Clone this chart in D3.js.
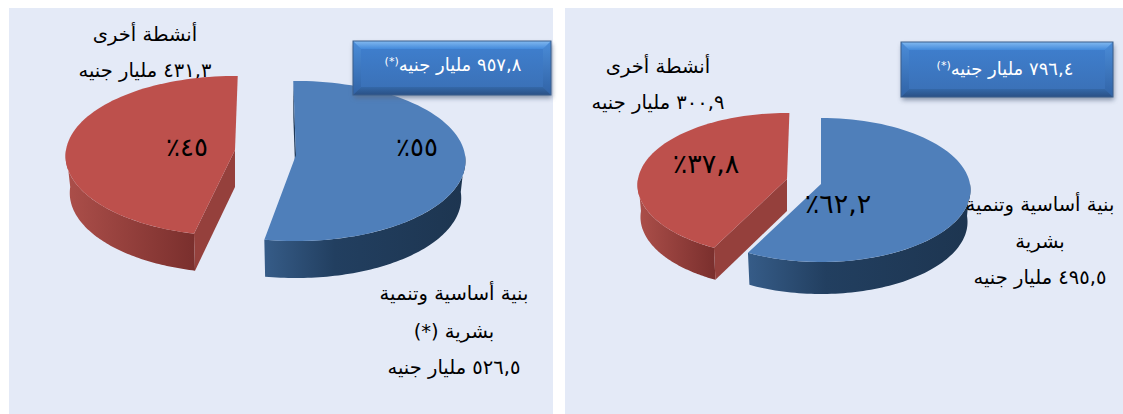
<!DOCTYPE html>
<html lang="ar">
<head>
<meta charset="utf-8">
<script src="https://cdn.jsdelivr.net/npm/d3@7"></script>
<style>
    html, body { margin: 0; padding: 0; background: #fff; }
    svg { display: block; }
    text { font-family: "DejaVu Sans", sans-serif; fill: #000; direction: rtl; text-anchor: middle; }
</style>
</head>
<body>
<svg id="chart" width="1123" height="414"></svg>
<script>
// values in billion EGP, left panel first
const infraValues = [526.5, 495.5];
const otherValues = [431.3, 300.9];
const infraShares = ["٥٥٪", "٦٢,٢٪"];
const otherShares = ["٤٥٪", "٣٧,٨٪"];
const totals = ["٩٥٧,٨ مليار جنيه", "٧٩٦,٤ مليار جنيه"];
const otherLabels = [
    ["أنشطة أخرى", "٤٣١,٣ مليار جنيه"],
    ["أنشطة أخرى", "٣٠٠,٩ مليار جنيه"]
];
const infraLabels = [
    ["بنية أساسية وتنمية", "بشرية (*)", "٥٢٦,٥ مليار جنيه"],
    ["بنية أساسية وتنمية", "بشرية", "٤٩٥,٥ مليار جنيه"]
];

const panels = [
    {
        x: 9, width: 544,
        radius: 169, tilt: 0.471, persp: 0.075, depth: 37, taper: 0.975,
        // the 3d view squeezes the slices, so the boundary does not sit at its true angle
        viewAngles: [-1, 191.5, 361], viewGap: 1.5,
        infraCentre: [296, 155], otherCentre: [235, 150],
        box: { x: 353, y: 41, w: 198, h: 54, textX: 453, textY: 71 },
        otherLabel: { x: 145, y: [41, 77], size: 19.5 },
        infraLabel: { x: 454, y: [300, 338, 374], size: 19.5 },
        otherShare: { x: 187, y: 156, size: 26 },
        infraShare: { x: 417, y: 156, size: 26 }
    },
    {
        x: 565, width: 558,
        radius: 149, tilt: 0.48, persp: 0.083, depth: 32, taper: 0.98,
        viewAngles: [0, 207, 361], viewGap: 0,
        infraCentre: [821, 184], otherCentre: [787, 179],
        box: { x: 901, y: 42, w: 212, h: 55, textX: 1005, textY: 75 },
        otherLabel: { x: 658, y: [73, 109], size: 19.5 },
        infraLabel: { x: 1040, y: [211, 248, 284], size: 19.5 },
        otherShare: { x: 706, y: 173, size: 27 },
        infraShare: { x: 838, y: 213, size: 27 }
    }
];

const sliceColours = {
    infra: { top: "#4f7fba", face: "#1f3a5a", wall: "url(#wall-blue)" },
    other: { top: "#bd504c", face: "#95403c", wall: "url(#wall-red)" }
};

const svg = d3.select("#chart");
const defs = svg.append("defs");

function addGradient(id, x2, y2, stops) {
    let gradient = defs.append("linearGradient")
        .attr("id", id)
        .attr("x1", 0).attr("y1", 0)
        .attr("x2", x2).attr("y2", y2);
    stops.forEach(function(s) {
        gradient.append("stop").attr("offset", s[0]).attr("stop-color", s[1]);
    });
}

addGradient("wall-blue", 1, 0, [[0, "#365c88"], [0.35, "#223f60"], [1, "#1d3550"]]);
addGradient("wall-red", 1, 0, [[0, "#ac4f4a"], [1, "#7a2f2d"]]);
addGradient("box-main", 0, 1, [[0, "#3f80d0"], [1, "#3a6fb4"]]);
addGradient("box-top", 0, 1, [[0, "#82b9f0"], [1, "#448adb"]]);
addGradient("box-bottom", 0, 1, [[0, "#3468a8"], [1, "#2a5085"]]);
addGradient("box-side", 0, 1, [[0, "#4a8cd8"], [1, "#3163a6"]]);

let blur = defs.append("filter").attr("id", "box-shadow")
    .attr("x", "-5%").attr("y", "-10%").attr("width", "110%").attr("height", "130%");
blur.append("feGaussianBlur").attr("stdDeviation", 2.5);

/**
 * Projects a pie angle onto the tilted disc of a panel
 */
function project(panel, centre, angle) {
    let s = 1 / (1 + panel.persp * Math.cos(angle));
    return [
        centre[0] + panel.radius * Math.sin(angle) * s,
        centre[1] - panel.radius * panel.tilt * Math.cos(angle) * s
    ];
}

function rimPoints(panel, centre, from, to) {
    let count = 80;
    return d3.range(count + 1).map(function(i) {
        return project(panel, centre, from + (to - from) * i / count);
    });
}

function drawSlice(panel, centre, d, colours) {
    let line = d3.line();
    let g = svg.append("g");
    let rim = rimPoints(panel, centre, d.startAngle, d.endAngle);
    // lower edge of the disc sits a little further from the viewer
    let down = function(p) {
        return [centre[0] + (p[0] - centre[0]) * panel.taper, p[1] + panel.depth];
    };

    // side wall, only the half turned to the viewer
    let wallFrom = Math.max(d.startAngle, Math.PI / 2);
    let wallTo = Math.min(d.endAngle, Math.PI * 1.5);
    let wall = rimPoints(panel, centre, wallFrom, wallTo);
    g.append("path")
        .attr("d", line(wall.concat(wall.map(down).reverse())) + "Z")
        .attr("fill", colours.wall);

    // cut face
    let edge = project(panel, centre, d.startAngle);
    g.append("path")
        .attr("d", line([centre, edge, down(edge), down(centre)]) + "Z")
        .attr("fill", colours.face);

    // top face
    g.append("path")
        .attr("d", line([centre].concat(rim)) + "Z")
        .attr("fill", colours.top);
}

function drawBox(box, label) {
    let x0 = box.x, y0 = box.y, x1 = box.x + box.w, y1 = box.y + box.h;
    let bevel = 8;
    let g = svg.append("g");
    g.append("rect")
        .attr("x", x0 + 1).attr("y", y0 + 3)
        .attr("width", box.w).attr("height", box.h)
        .attr("fill", "#5a6b85").attr("opacity", 0.7)
        .attr("filter", "url(#box-shadow)");
    g.append("rect")
        .attr("x", x0).attr("y", y0)
        .attr("width", box.w).attr("height", box.h)
        .attr("fill", "url(#box-main)");
    let bevels = [
        [[[x0, y0], [x0 + bevel, y0 + bevel], [x0 + bevel, y1 - bevel], [x0, y1]], "url(#box-side)"],
        [[[x1, y0], [x1 - bevel, y0 + bevel], [x1 - bevel, y1 - bevel], [x1, y1]], "url(#box-side)"],
        [[[x0, y0], [x1, y0], [x1 - bevel, y0 + bevel], [x0 + bevel, y0 + bevel]], "url(#box-top)"],
        [[[x0, y1], [x1, y1], [x1 - bevel, y1 - bevel], [x0 + bevel, y1 - bevel]], "url(#box-bottom)"]
    ];
    bevels.forEach(function(b) {
        g.append("path").attr("d", d3.line()(b[0]) + "Z").attr("fill", b[1]);
    });
    g.append("rect")
        .attr("x", x0).attr("y", y0)
        .attr("width", box.w).attr("height", box.h)
        .attr("fill", "none").attr("stroke", "#3b5f8c").attr("stroke-width", 1);

    let text = g.append("text")
        .attr("x", box.textX).attr("y", box.textY)
        .style("fill", "#fff")
        .style("font-size", "18px")
        .text(label);
    text.append("tspan")
        .attr("dy", -6)
        .style("font-size", "11px")
        .text("(*)");
}

function drawLines(spec, lines) {
    lines.forEach(function(l, i) {
        svg.append("text")
            .attr("x", spec.x).attr("y", spec.y[i])
            .style("font-size", spec.size + "px")
            .text(l);
    });
}

panels.forEach(function(panel, i) {
    svg.append("rect")
        .attr("x", panel.x).attr("y", 8)
        .attr("width", panel.width).attr("height", 406)
        .attr("fill", "#e4eaf7");

    let pie = d3.pie().sort(null);
    let slices = pie([infraValues[i], otherValues[i]]);

    let view = d3.scaleLinear()
        .domain([0, slices[0].endAngle, Math.PI * 2])
        .range(panel.viewAngles.map(function(a) { return a * Math.PI / 180; }));
    let gap = panel.viewGap * Math.PI / 180;

    drawLines(panel.otherLabel, otherLabels[i]);
    drawSlice(panel, panel.otherCentre,
        { startAngle: view(slices[1].startAngle) + gap, endAngle: view(slices[1].endAngle) },
        sliceColours.other);
    drawSlice(panel, panel.infraCentre,
        { startAngle: view(slices[0].startAngle), endAngle: view(slices[0].endAngle) - gap },
        sliceColours.infra);
    drawLines(panel.infraLabel, infraLabels[i]);

    svg.append("text")
        .attr("x", panel.otherShare.x).attr("y", panel.otherShare.y)
        .style("font-size", panel.otherShare.size + "px")
        .text(otherShares[i]);
    svg.append("text")
        .attr("x", panel.infraShare.x).attr("y", panel.infraShare.y)
        .style("font-size", panel.infraShare.size + "px")
        .text(infraShares[i]);

    drawBox(panel.box, totals[i]);
});
</script>
</body>
</html>
